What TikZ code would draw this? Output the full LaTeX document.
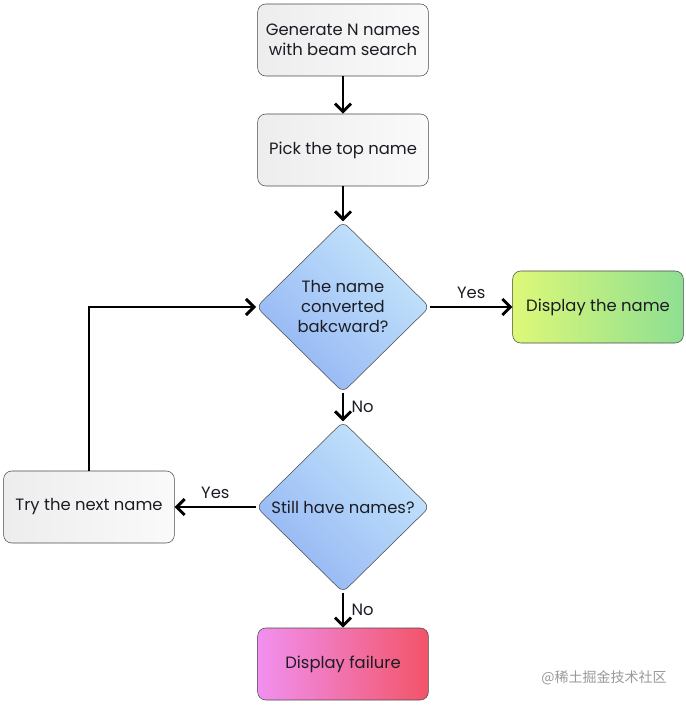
\documentclass[tikz,border=0pt]{standalone}
\usepackage{fontspec}
\setmainfont{Poppins}
\newfontfamily\cjk{Noto Sans CJK SC}
\usetikzlibrary{shapes.geometric,arrows.meta}
\definecolor{boxline}{HTML}{4A4A4A}
\definecolor{grayLo}{HTML}{EDEDED}
\definecolor{grayHi}{HTML}{FAFAFA}
\definecolor{blueLo}{HTML}{93B5F4}
\definecolor{blueHi}{HTML}{C6E6FB}
\definecolor{okLo}{HTML}{DDF878}
\definecolor{okHi}{HTML}{8EDF92}
\definecolor{failLo}{HTML}{F190F0}
\definecolor{failHi}{HTML}{F25468}
\definecolor{ink}{HTML}{1C1C24}
\begin{document}
\begin{tikzpicture}
    [
    x=0.75pt, y=-0.75pt,
    font=\fontsize{12.3}{15}\selectfont, text=ink,
    process/.style={rectangle,draw=boxline,rounded corners=6pt,inner sep=0pt,minimum height=54pt, minimum width=128pt,align=center,left color=grayLo,right color=grayHi},
    decision/.style={diamond,draw=boxline,rounded corners=5pt,inner sep=0pt,minimum height=128pt, minimum width=130pt,align=center,bottom color=blueLo,top color=blueHi,shading angle=-45},
    flow/.style={line width=2.2pt,-{Straight Barb[length=6pt,width=12pt,line width=2.2pt]}}
    ]
    \useasboundingbox (0,0) rectangle (685,705);
    \node (gen) at (343,40) [process] {Generate N names\\with beam search};
    \node (pick) at (343,150) [process] {Pick the top name};
    \node (conv) at (343,307) [decision] {The name\\converted\\bakcward?};
    \node (show) at (598,307) [process, left color=okLo, right color=okHi] {Display the name};
    \node (still) at (343,507) [decision] {Still have names?};
    \node (next) at (89,507) [process] {Try the next name};
    \node (fail) at (343,664) [process, left color=failLo, right color=failHi] {Display failure};
    \draw [flow] (gen) to (pick);
    \draw [flow] (pick) to (conv);
    \draw [flow] (conv) to node [above, pos=0.5, yshift=2pt] {Yes} (show);
    \draw [flow] (conv) to node [right, xshift=2pt] {No} (still);
    \draw [flow] (still) to node [above, pos=0.5, yshift=2pt] {Yes} (next);
    \draw [flow] (still) to node [right, xshift=2pt] {No} (fail);
    \draw [flow] (next.north) |- (conv.west);
    \node (mark) at (604,678) [text=black!40, font=\cjk\fontsize{10.5}{12}\selectfont] {@稀土掘金技术社区};
  \end{tikzpicture}
\end{document}
